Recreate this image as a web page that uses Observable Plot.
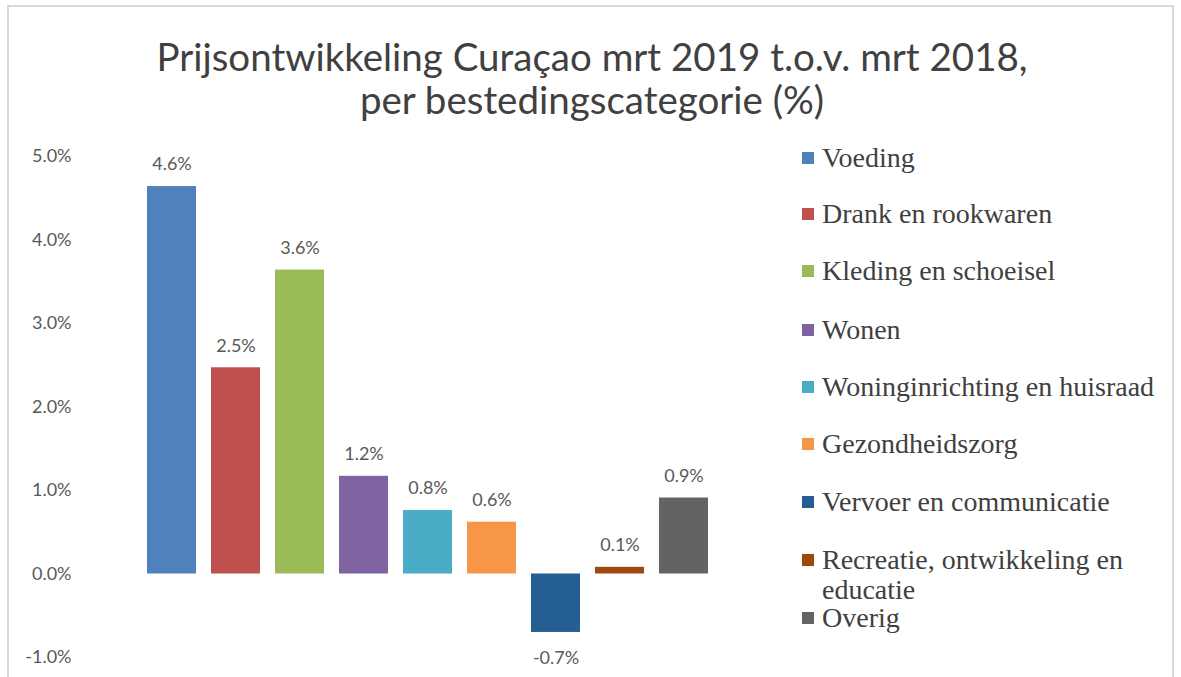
<!DOCTYPE html>
<html>
<head>
<meta charset="utf-8">
<script src="https://cdn.jsdelivr.net/npm/d3@7"></script>
<script src="https://cdn.jsdelivr.net/npm/@observablehq/plot@0.6"></script>
<style>
  html, body { margin: 0; padding: 0; background: #ffffff; }
  #wrap { position: relative; width: 1181px; height: 677px; overflow: hidden; background: #fff; }
  #frame { position: absolute; left: 7px; top: 5px; width: 1167px; height: 700px; border: 2px solid #d9d9d9; box-sizing: border-box; }
  #title { position: absolute; left: 8px; width: 1168px; top: 35px; text-align: center; font-family: Lato, "Open Sans", sans-serif; font-size: 38.5px; line-height: 43px; color: #404040; }
  #chart { position: absolute; left: 0; top: 130px; }
  .leg { position: absolute; left: 802px; font-family: "Liberation Serif", "Times New Roman", serif; font-size: 28px; line-height: 30px; color: #404040; }
  .leg .sw { position: absolute; left: 0; top: 9px; width: 12px; height: 12px; }
  .leg .lt { position: absolute; left: 20px; top: 0; width: 345px; }
</style>
</head>
<body>
<div id="wrap">
  <div id="frame"></div>
  <div id="title">Prijsontwikkeling Curaçao mrt 2019 t.o.v. mrt 2018,<br>per bestedingscategorie (%)</div>
  <div id="chart"></div>
  <div id="legend"></div>
</div>
<script>
const categories = [
  "Voeding",
  "Drank en rookwaren",
  "Kleding en schoeisel",
  "Wonen",
  "Woninginrichting en huisraad",
  "Gezondheidszorg",
  "Vervoer en communicatie",
  "Recreatie, ontwikkeling en educatie",
  "Overig"
];
const values = [4.64, 2.47, 3.64, 1.17, 0.76, 0.62, -0.70, 0.08, 0.91];
const colors = ["#4f81bd", "#c0504d", "#9bbb59", "#8064a2", "#4bacc6", "#f79646", "#255e91", "#9e480e", "#636363"];
const yTicks = [-1, 0, 1, 2, 3, 4, 5];

const data = categories.map((c, i) => ({category: c, value: values[i]}));
const fmt = d => d.toFixed(1) + "%";

const chart = Plot.plot({
  width: 760,
  height: 547,
  marginTop: 26,
  marginBottom: 20,
  marginLeft: 132,
  marginRight: 37,
  style: {background: "transparent", fontFamily: "Lato, 'Open Sans', sans-serif"},
  x: {domain: categories, padding: 0.234, axis: null},
  y: {domain: [-1, 5], ticks: yTicks, tickFormat: fmt, label: null},
  color: {domain: categories, range: colors},
  marks: [
    Plot.barY(data, {x: "category", y: "value", fill: "category"}),
    Plot.axisY({ticks: yTicks, tickFormat: fmt, tickSize: 0, tickPadding: 61, fontSize: 18, fill: "#595959", label: null}),
    Plot.text(data.filter(d => d.value >= 0), {x: "category", y: "value", text: d => fmt(d.value), dy: -22, fontSize: 18, fill: "#595959"}),
    Plot.text(data.filter(d => d.value < 0), {x: "category", y: "value", text: d => fmt(d.value), dy: 26, fontSize: 18, fill: "#595959"})
  ]
});
document.getElementById("chart").appendChild(chart);

// Legend built from the same arrays
const legendCenters = [158, 214, 271, 330, 387, 444, 502, 560, 618];
const legend = d3.select("#legend");
categories.forEach((c, i) => {
  const item = legend.append("div").attr("class", "leg").style("top", (legendCenters[i] - 15) + "px");
  item.append("div").attr("class", "sw").style("background", colors[i]);
  item.append("div").attr("class", "lt").text(c);
});
</script>
</body>
</html>
